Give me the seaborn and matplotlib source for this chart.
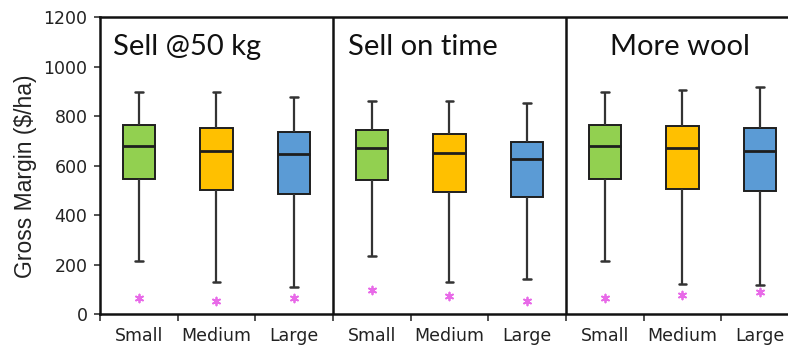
import numpy as np
import pandas as pd
import seaborn as sns
import matplotlib.pyplot as plt
from matplotlib.ticker import FixedLocator, NullFormatter

# Gross margin summary per farm size under three scenarios
scenarios = ["Sell @50 kg", "Sell on time", "More wool"]
sizes = ["Small", "Medium", "Large"]
whisker_low = [215, 132, 112, 234, 132, 144, 215, 122, 118]
q1 = [547, 503, 485, 541, 493, 475, 545, 507, 498]
median = [680, 660, 646, 671, 650, 626, 680, 671, 661]
q3 = [765, 754, 735, 745, 727, 695, 764, 761, 751]
whisker_high = [897, 897, 879, 863, 863, 854, 897, 906, 917]
point_value = [67, 54, 67, 98, 75, 54, 67, 78, 89]
y_ticks = [0, 200, 400, 600, 800, 1000, 1200]

size_colors = {"Small": "#92d050", "Medium": "#ffc000", "Large": "#5b9bd5"}

# Long-form table: each box is given by its five-number summary
rows, points = [], []
groups = []
i = 0
for sc in scenarios:
    for sz in sizes:
        g = f"{sc}|{sz}"
        groups.append(g)
        for v in (whisker_low[i], q1[i], median[i], q3[i], whisker_high[i]):
            rows.append({"group": g, "size": sz, "value": v})
        points.append({"group": g, "size": sz, "value": point_value[i]})
        i += 1
df = pd.DataFrame(rows)
pts = pd.DataFrame(points)

sns.set_style("white")
plt.rcParams["font.family"] = ["Liberation Sans", "DejaVu Sans"]

fig = plt.figure(figsize=(7.88, 3.48), dpi=100)
ax = fig.add_axes([100 / 788, 33.7 / 348, 699 / 788, 297 / 348])

edge = "#1e1e1e"
sns.boxplot(
    data=df, x="group", y="value", hue="size", order=groups, hue_order=sizes,
    palette=size_colors, dodge=False, whis=(0, 100), width=0.42,
    linecolor=edge, linewidth=1.4, legend=False, ax=ax, saturation=1,
    capwidths=0.1,
    medianprops=dict(color=edge, linewidth=2.0),
    whiskerprops=dict(color="#333333", linewidth=1.6),
    capprops=dict(color="#333333", linewidth=1.8),
)

sns.scatterplot(
    data=pts, x="group", y="value", ax=ax, marker=(6, 2, 0), s=32,
    color="#e86ae8", linewidth=1.3, legend=False, zorder=5,
)

ax.set_xlim(-0.5, 8.5)
ax.set_ylim(0, 1200)
ax.set_yticks(y_ticks)
ax.set_yticklabels([str(t) for t in y_ticks], family=["DejaVu Sans"])

# Category labels sit between tick marks that mark the category edges
ax.xaxis.set_major_locator(FixedLocator(np.arange(-0.5, 9.0, 1.0)))
ax.xaxis.set_major_formatter(NullFormatter())
ax.xaxis.set_minor_locator(FixedLocator(np.arange(0, 9)))
ax.set_xticklabels([g.split("|")[1] for g in groups], minor=True,
                   family=["DejaVu Sans"])
ax.tick_params(axis="x", which="major", direction="out", length=5, width=1.2,
               color="#333333", bottom=True)
ax.tick_params(axis="x", which="minor", length=0, pad=9.5, labelsize=12.5,
               labelcolor="#222222", bottom=True)
ax.tick_params(axis="y", direction="out", length=4, width=1.2, color="#333333",
               labelsize=12.5, labelcolor="#222222", left=True, pad=5)

ax.set_xlabel("")
ax.set_ylabel("Gross Margin ($/ha)", fontsize=16.5, color="#222222")
ax.yaxis.set_label_coords(-0.090, 0.466)

for s in ax.spines.values():
    s.set_visible(True)
    s.set_color("#111111")
    s.set_linewidth(1.8)

for xb in (2.5, 5.5):
    ax.axvline(xb, color="#111111", linewidth=1.8)

title_x = [-0.33, 2.69, 6.07]
for tx, sc in zip(title_x, scenarios):
    ax.text(tx, 1082, sc, fontsize=21, family=["Lato", "DejaVu Sans"],
            color="#111111", va="center", ha="left")

fig.savefig("out.png", dpi=100, facecolor="white")
